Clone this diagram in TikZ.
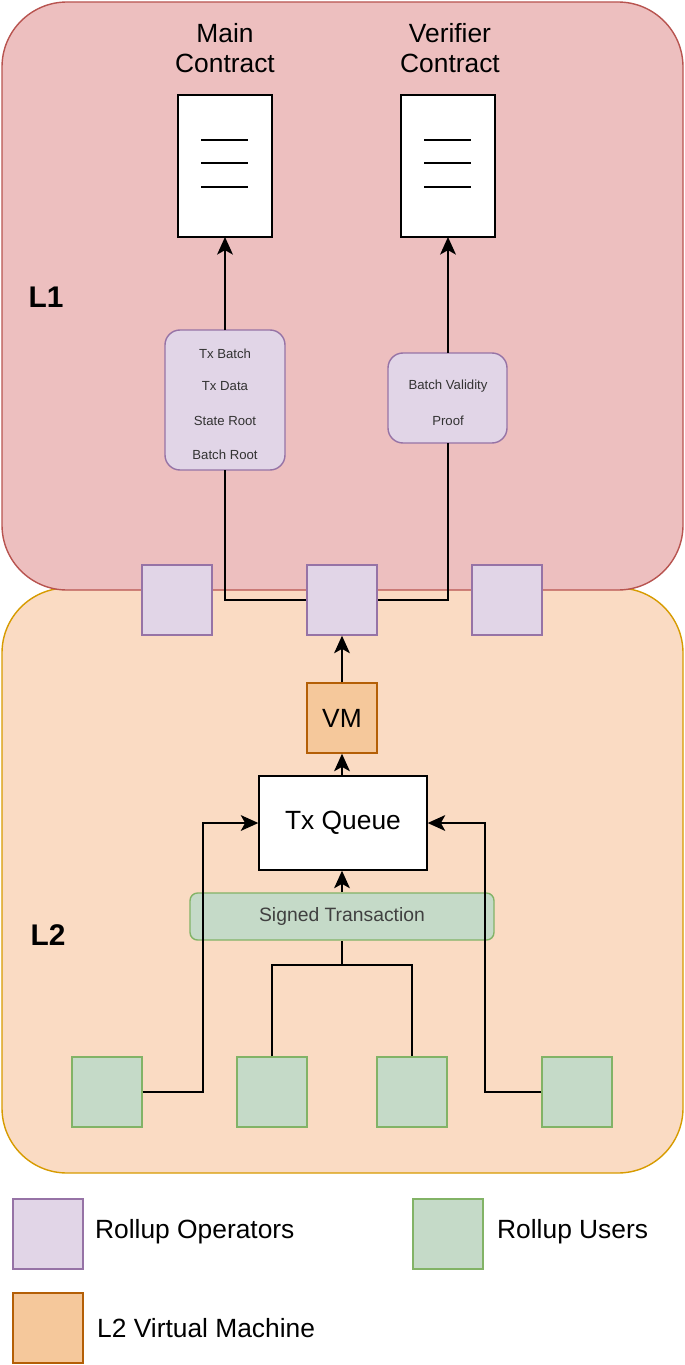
\documentclass[tikz,border=0pt]{standalone}
\usepackage{fontspec}
\setmainfont{Liberation Sans}
\usetikzlibrary{arrows.meta}
\definecolor{lonef}{RGB}{237,191,191}
\definecolor{loned}{RGB}{184,84,80}
\definecolor{ltwof}{RGB}{250,219,195}
\definecolor{ltwod}{RGB}{215,155,0}
\definecolor{opf}{RGB}{225,213,231}
\definecolor{opd}{RGB}{150,115,166}
\definecolor{usf}{RGB}{197,218,200}
\definecolor{usd}{RGB}{130,179,102}
\definecolor{vmf}{RGB}{245,200,155}
\definecolor{vmd}{RGB}{180,95,6}
\begin{document}
\begin{tikzpicture}[x=0.02cm,y=-0.02cm,
  region/.style={rounded corners=1.3cm,line width=0.8pt},
  sq/.style={draw=opd,fill=opf,line width=0.8pt},
  us/.style={draw=usd,fill=usf,line width=0.8pt},
  doc/.style={draw,fill=white,line width=0.8pt},
  lbl/.style={font=\fontsize{15}{17.5}\selectfont,align=center},
  small/.style={font=\fontsize{7.5}{9}\selectfont,text=black!80},
  arr/.style={-{Stealth[length=10pt,width=9pt,inset=2.5pt]},line width=0.9pt},
  ln/.style={line width=0.9pt}]
\useasboundingbox (0,0) rectangle (685,1365);
% regions
\draw[region,draw=ltwod,fill=ltwof] (2,588) rectangle (683,1173);
\draw[region,draw=loned,fill=lonef] (2,2) rectangle (683,590);
\node[font=\fontsize{17}{19}\selectfont\bfseries] (l1) at (46,297) {L1};
\node[font=\fontsize{17}{19}\selectfont\bfseries] (l2) at (48,935) {L2};
% contracts
\node[lbl] (mct) at (225,48) {Main\\Contract};
\node[lbl] (vct) at (450,48) {Verifier\\Contract};
\draw[doc] (178,95) rectangle (272,237);
\draw[doc] (401,95) rectangle (495,237);
\coordinate (mc) at (225,237);
\coordinate (vc) at (448,237);
\foreach \y in {140,163,187} {
  \draw[ln] (201,\y) -- (248,\y);
  \draw[ln] (424,\y) -- (471,\y);
}
% data boxes
\draw[sq,rounded corners=0.3cm] (165,330) rectangle (285,470);
\coordinate (tbtop) at (225,330);
\coordinate (tbbot) at (225,470);
\node[small] (t1) at (225,354) {Tx Batch};
\node[small] (t2) at (225,386) {Tx Data};
\node[small] (t3) at (225,421) {State Root};
\node[small] (t4) at (225,455) {Batch Root};
\draw[sq,rounded corners=0.3cm] (388,353) rectangle (507,443);
\coordinate (bvtop) at (448,353);
\coordinate (bvbot) at (448,443);
\node[small] (b1) at (448,386) {Batch Validity};
\node[small] (b2) at (448,421) {Proof};
\draw[arr] (tbtop) -- (mc);
\draw[arr] (bvtop) -- (vc);
% operators
\node[sq,minimum size=1.4cm,inner sep=0] (op1) at (177,600) {};
\node[sq,minimum size=1.4cm,inner sep=0] (op2) at (342,600) {};
\node[sq,minimum size=1.4cm,inner sep=0] (op3) at (507,600) {};
\draw[ln] (tbbot) |- (op2.west);
\draw[ln] (bvbot) |- (op2.east);
% VM & queue
\node[draw=vmd,fill=vmf,line width=0.8pt,minimum size=1.4cm,inner sep=0,lbl] (vm) at (342,718) {VM};
\node[doc,minimum width=3.36cm,minimum height=1.88cm,lbl] (tq) at (343,823) {Tx Queue};
\node[us,rounded corners=0.15cm,minimum width=6.08cm,minimum height=0.94cm,font=\fontsize{11}{13}\selectfont,text=black!75] (st) at (342,916.5) {Signed Transaction};
\draw[arr] (vm.north) -- (op2.south);
\draw[arr] (vm.north |- tq.north) -- (vm.south);
\draw[arr] (st.north) -- (st.north |- tq.south);
% users
\node[us,minimum size=1.4cm,inner sep=0] (u1) at (107,1092) {};
\node[us,minimum size=1.4cm,inner sep=0] (u2) at (272,1092) {};
\node[us,minimum size=1.4cm,inner sep=0] (u3) at (412,1092) {};
\node[us,minimum size=1.4cm,inner sep=0] (u4) at (577,1092) {};
\coordinate (j) at (342,965);
\draw[ln] (u2.north) |- (j) -| (u3.north);
\draw[ln] (j) -- (st.south);
\draw[arr] (u1.east) -- (203,1092) |- (tq.west);
\draw[arr] (u4.west) -- (485,1092) |- (tq.east);
% legend
\node[sq,minimum size=1.4cm,inner sep=0] (k1) at (48,1234) {};
\node[anchor=west,lbl] (k1t) at (89,1232) {Rollup Operators};
\node[us,minimum size=1.4cm,inner sep=0] (k2) at (448,1234) {};
\node[anchor=west,lbl] (k2t) at (491,1232) {Rollup Users};
\node[draw=vmd,fill=vmf,line width=0.8pt,minimum size=1.4cm,inner sep=0] (k3) at (48,1328) {};
\node[anchor=west,lbl] (k3t) at (91,1328) {L2 Virtual Machine};
\end{tikzpicture}
\end{document}
